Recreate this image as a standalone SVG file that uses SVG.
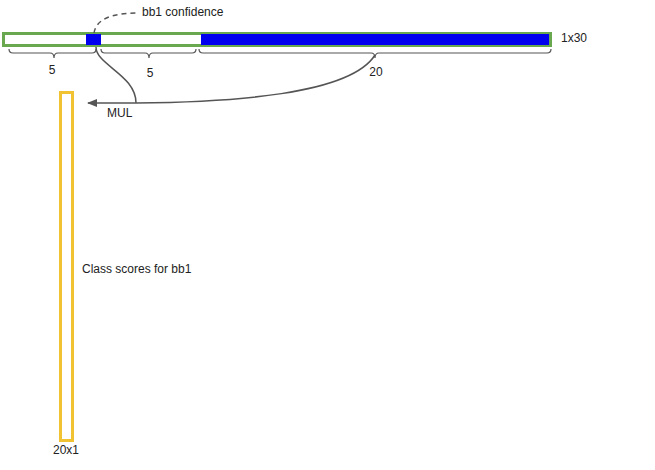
<svg xmlns="http://www.w3.org/2000/svg" width="655" height="470" viewBox="0 0 655 470">
<style>
text{font-family:"Liberation Sans",Arial,sans-serif;font-size:12px;fill:#222}
.brace{fill:none;stroke:#555;stroke-width:1.2}
.conn{fill:none;stroke:#555;stroke-width:1.5}
</style>
<defs>
<marker id="arr" markerWidth="10" markerHeight="8" refX="9" refY="4" orient="auto" markerUnits="userSpaceOnUse">
<path d="M0,0 L10,4 L0,8 Z" fill="#555"/>
</marker>
</defs>
<rect width="655" height="470" fill="#fff"/>
<g id="vector">
<rect x="3.5" y="33.5" width="547" height="12" fill="#fff" stroke="#6aa84f" stroke-width="3"/>
<rect x="86" y="34" width="15" height="11" fill="#0000ee"/>
<rect x="201" y="34" width="348" height="11" fill="#0000ee"/>
<text x="561" y="42">1x30</text>
</g>
<g id="braces">
<path class="brace" d="M9,49 Q9,53 13,53 L50,53 Q54,53 54,58 Q54,53 58,53 L92,53 Q96,53 96,49"/>
<text x="52" y="74" text-anchor="middle">5</text>
<path class="brace" d="M101,49 Q101,53 105,53 L145,53 Q149,53 149,58 Q149,53 153,53 L192,53 Q196,53 196,49"/>
<text x="150" y="77" text-anchor="middle">5</text>
<path class="brace" d="M199,49 Q199,53 203,53 L371,53 Q375,53 375,58 Q375,53 379,53 L547,53 Q551,53 551,49"/>
<text x="376" y="76" text-anchor="middle">20</text>
</g>
<g id="scores">
<rect x="60.5" y="92.5" width="12" height="348" fill="none" stroke="#f1c232" stroke-width="3"/>
<text x="82" y="273">Class scores for bb1</text>
<text x="53" y="454">20x1</text>
</g>
<g id="connectors">
<path class="conn" d="M94,33 C96,20 110,13 138,13" stroke-dasharray="5,4" stroke-width="1.3"/>
<path class="conn" d="M96,47 C96,65 136,75 136,103"/>
<path class="conn" d="M375,55 C350,95 230,102 136,103"/>
<path class="conn" d="M136,103 L88,103" marker-end="url(#arr)"/>
<text x="107" y="117">MUL</text>
<text x="142" y="16">bb1 confidence</text>
</g>
</svg>
